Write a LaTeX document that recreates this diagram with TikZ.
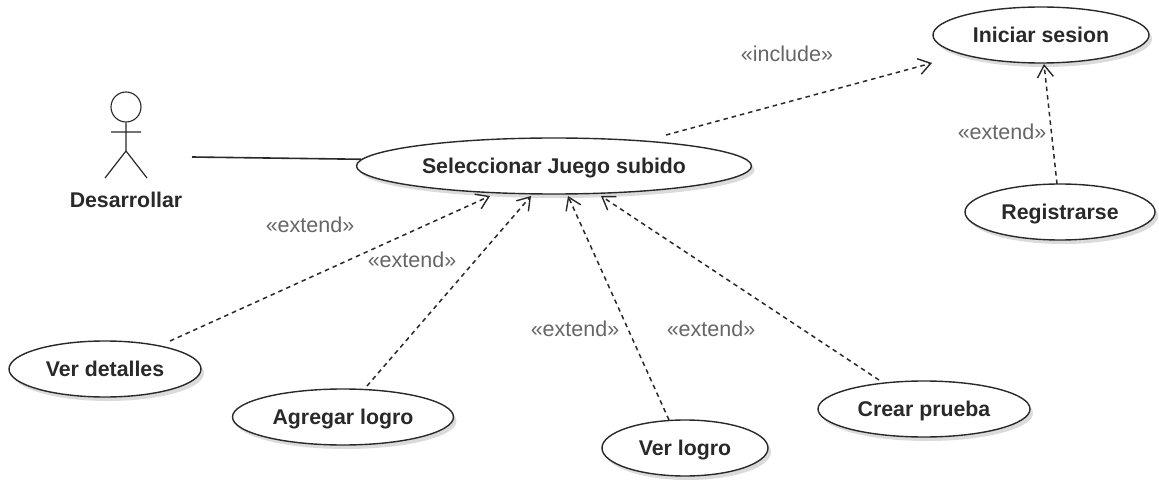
\documentclass[tikz,border=0pt]{standalone}
\usepackage{fontspec}
\setmainfont{Liberation Sans}
\usetikzlibrary{shapes.geometric,arrows.meta,shadows}
\definecolor{inkc}{gray}{0.16}
\definecolor{labelc}{gray}{0.40}
\tikzset{
  usecase/.style={ellipse,draw=inkc,line width=1.4pt,fill=white,inner sep=0pt,minimum height=56pt,
    text=inkc,font=\fontsize{21.3}{24}\selectfont\bfseries,text height=16pt,text depth=1pt,
    drop shadow={shadow xshift=3pt,shadow yshift=-4pt,opacity=.14,fill=black}},
  stereo/.style={text=labelc,font=\fontsize{21.5}{24}\selectfont,inner sep=0pt},
  dep/.style={draw=inkc,line width=1.5pt,dash pattern=on 4.5pt off 4pt,-{Straight Barb[length=12pt,width=16pt,line width=1.4pt]}},
  actorline/.style={draw=inkc,line width=1.2pt},
  assoc/.style={draw=inkc,line width=1.6pt}
}
\begin{document}
\begin{tikzpicture}[x=1pt,y=-1pt]
\useasboundingbox[fill=white] (0,0) rectangle (1159,481);
% use cases
\node[usecase,minimum width=395pt] (sel) at (554,166) {Seleccionar Juego subido};
\node[usecase,minimum width=216pt] (ini) at (1041,35) {Iniciar sesion};
\node[usecase,minimum width=190pt] (reg) at (1060,212) {Registrarse};
\node[usecase,minimum width=192pt] (det) at (105,369) {Ver detalles};
\node[usecase,minimum width=221pt] (agr) at (343,417) {Agregar logro};
\node[usecase,minimum width=166pt] (vlo) at (685,448) {Ver logro};
\node[usecase,minimum width=212pt] (cre) at (924,409) {Crear prueba};
% actor
\node[circle,draw=inkc,line width=1.1pt,minimum size=30pt,inner sep=0pt] (head) at (126,107) {};
\coordinate (hip) at (126,151);
\coordinate (armL) at (111,132);
\coordinate (armR) at (141,132);
\coordinate (legL) at (105,178);
\coordinate (legR) at (147,178);
\draw[actorline] (head) -- (hip) (armL) -- (armR) (legL) -- (hip) -- (legR);
\node[text=inkc,font=\fontsize{21.3}{24}\selectfont\bfseries,inner sep=0pt] (actor) at (126,200) {Desarrollar};
\coordinate (assocEnd) at (192,157);
\draw[assoc] (assocEnd) -- (sel.178);
% dependencies
\draw[dep] ([shift={(112,-31)}]sel.center) -- ([shift={(-109,28)}]ini.center);
\draw[dep] ([shift={(-3,-28)}]reg.center) -- ([shift={(3,29)}]ini.center);
\draw[dep] ([shift={(65,-28)}]det.center) -- ([shift={(-64,30)}]sel.center);
\draw[dep] ([shift={(24,-31)}]agr.center) -- ([shift={(-23,30)}]sel.center);
\draw[dep] ([shift={(-16,-28)}]vlo.center) -- ([shift={(14,30)}]sel.center);
\draw[dep] ([shift={(-45,-29)}]cre.center) -- ([shift={(47,30)}]sel.center);
% labels
\node[stereo] (l1) at (787,54) {«include»};
\node[stereo] (l2) at (1002,132) {«extend»};
\node[stereo] (l3) at (310,225) {«extend»};
\node[stereo] (l4) at (412,260) {«extend»};
\node[stereo] (l5) at (575,329) {«extend»};
\node[stereo] (l6) at (711,329) {«extend»};
\end{tikzpicture}
\end{document}
